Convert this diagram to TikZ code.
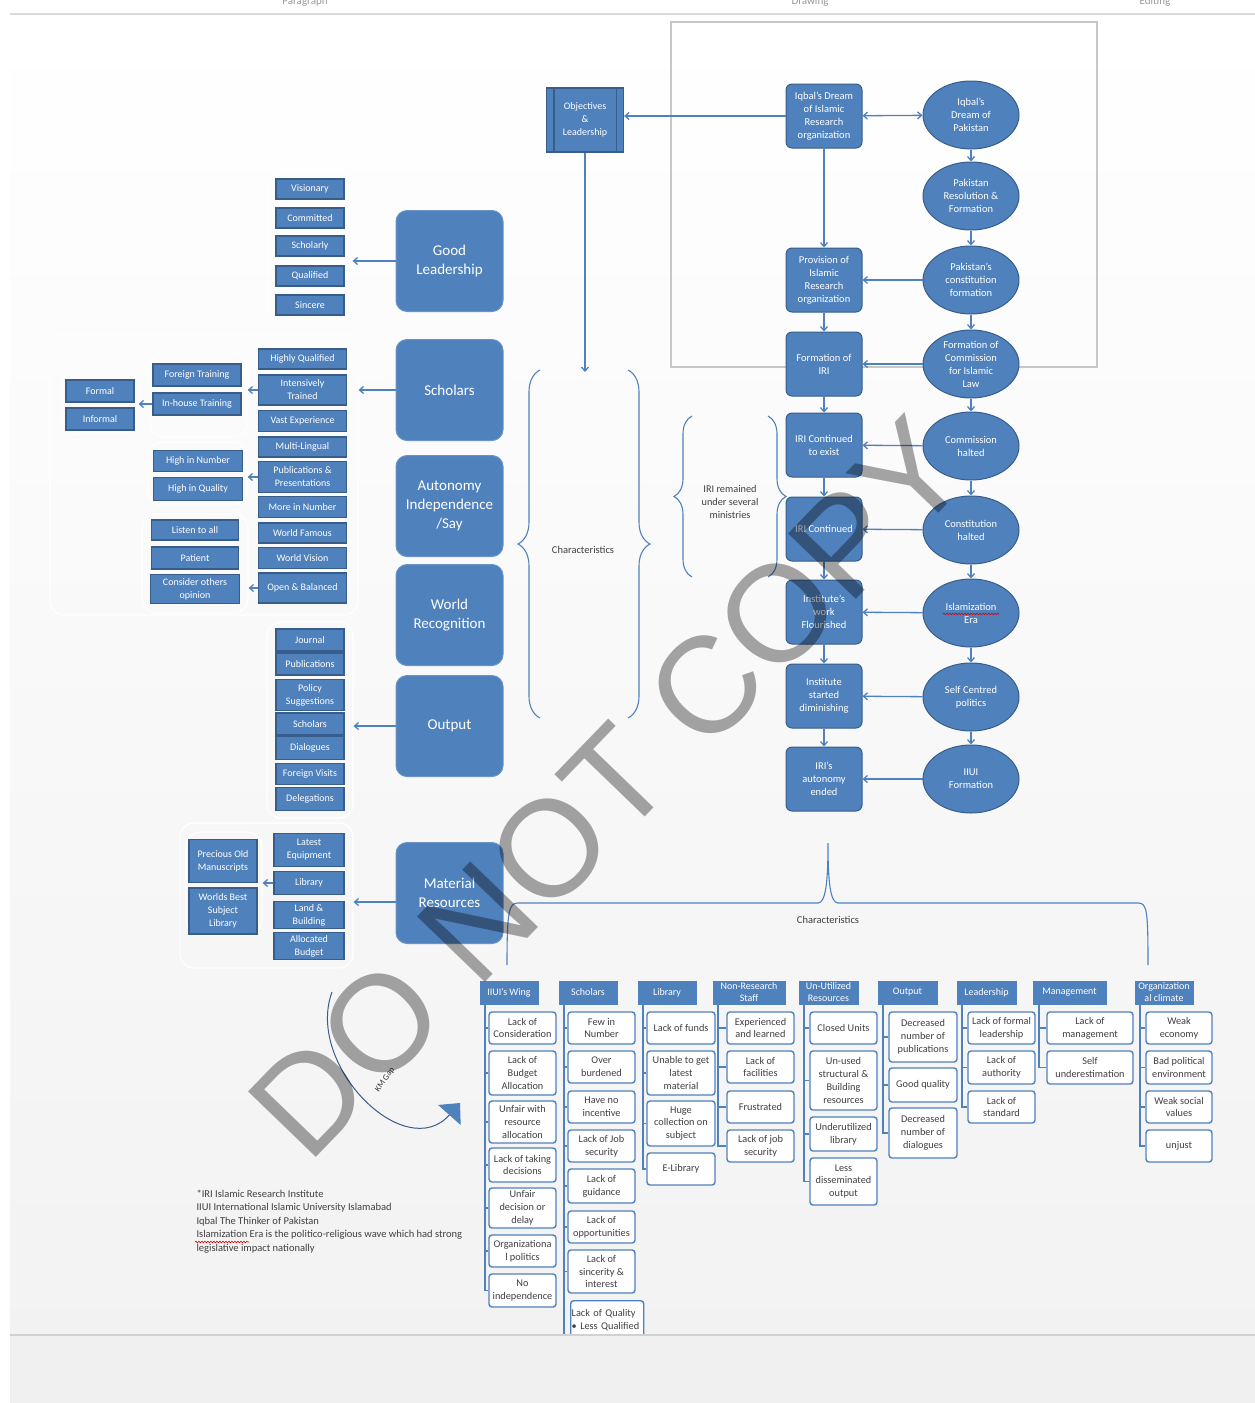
\documentclass[tikz,border=0pt]{standalone}
\usepackage{fontspec}
\setmainfont{Carlito}
\newfontfamily\markfont{Liberation Sans}
\usetikzlibrary{arrows.meta, calc, fit, shapes.geometric, decorations.pathreplacing, decorations.pathmorphing}

\definecolor{offblue}{HTML}{4F81BD}
\definecolor{offdark}{HTML}{385D8A}
\definecolor{offtext}{HTML}{404040}

\tikzset{
  bigbox/.style={rounded corners=11pt, fill=offblue, draw=offblue!85!white, line width=1pt, text=white, align=center,
    minimum width=107pt, minimum height=101pt, font=\fontsize{15}{19}\selectfont},
  sbox/.style={fill=offblue, draw=offdark, line width=1.2pt, text=white, align=center, inner sep=1pt,
    font=\fontsize{10}{13}\selectfont},
  flow/.style={rounded corners=6pt, fill=offblue, draw=offdark, line width=1pt, text=white, align=center,
    minimum width=76pt, minimum height=64pt, inner sep=1pt, font=\fontsize{10.5}{13}\selectfont},
  oval/.style={ellipse, fill=offblue, draw=offdark, line width=1pt, text=white, align=center,
    minimum width=96pt, minimum height=68pt, inner xsep=0pt, inner ysep=-3pt, font=\fontsize{10.5}{13}\selectfont},
  head/.style={fill=offblue, draw=offblue, text=white, align=center, minimum height=23pt, inner sep=0pt,
    font=\fontsize{10}{12}\selectfont},
  item/.style={rounded corners=3pt, fill=white, draw=offblue, line width=1.4pt, text=offtext, align=center,
    inner sep=1pt, font=\fontsize{10.3}{12.8}\selectfont},
  grp/.style={draw=white, line width=1.2pt, rounded corners=14pt, inner sep=0pt},
  link/.style={offblue, line width=1.3pt, -{Straight Barb[length=4pt, width=7pt]}},
  tree/.style={offblue, line width=1.6pt},
  brc/.style={offblue, line width=1.1pt, decorate},
  note/.style={text=offtext, font=\fontsize{10.5}{13.5}\selectfont},
  spell/.style={red!85!black, line width=0.6pt, decorate, decoration={snake, amplitude=0.8pt, segment length=3pt}},
}

\begin{document}
\begin{tikzpicture}[x=1pt, y=-1pt]
  \useasboundingbox (0,0) rectangle (1255,1403);

  % page and ribbon
  \fill[white] (0,0) rectangle (1255,1403);
  \shade[top color=white, bottom color=black!5] (10,16) rectangle (1255,1335);
  \draw[black!14, line width=1.5pt] (10,14) -- (1255,14);
  \foreach \x/\lbl in {305/Paragraph, 810/Drawing, 1155/Editing}
    \node[text=black!40, font=\fontsize{11}{11}\selectfont] (rib\x) at (\x,2) {\lbl};

  % timeline frame
  \draw[black!22, line width=1.2pt] (671,22) rectangle (1097,367);

  % group frames
  \node[grp, fit={(268,172) (352,320)}] (glf) {};
  \node[grp, fit={(50,335) (358,615)}] (schf) {};
  \node[grp, fit={(150,352) (247,437)}] (trf) {};
  \node[grp, fit={(62,370) (138,433)}] (fmf) {};
  \node[grp, fit={(148,442) (247,505)}] (hnf) {};
  \node[grp, fit={(142,514) (248,613)}] (lsf) {};
  \node[grp, fit={(267,622) (353,818)}] (outf) {};
  \node[grp, fit={(180,823) (353,968)}] (matf) {};
  \node[grp, fit={(186,832) (262,935)}] (msf) {};

  % objectives
  \node[sbox, minimum width=77pt, minimum height=64pt] (obj) at (585,120) {Objectives\\\&\\Leadership};
  \draw[offdark, line width=1.2pt] ([xshift=8pt]obj.north west) -- ([xshift=8pt]obj.south west)
    ([xshift=-8pt]obj.north east) -- ([xshift=-8pt]obj.south east);
  \coordinate (chartop) at (585,372);

  % IRI history
  \foreach \nm/\y/\txt in {dr/116/{Iqbal's Dream\\of Islamic\\Research\\organization},
      prov/280/{Provision of\\Islamic\\Research\\organization}, firi/364/{Formation of\\IRI},
      cex/445/{IRI Continued\\to exist}, con/529/{IRI Continued}, flo/612/{Institute's\\work\\Flourished},
      dim/696/{Institute\\started\\diminishing}, iend/779/{IRI's\\autonomy\\ended}}
    \node[flow] (\nm) at (824,\y) {\txt};

  % national events
  \foreach \nm/\y/\txt in {pdr/115/{Iqbal's\\Dream of\\Pakistan}, pres/196/{Pakistan\\Resolution \&\\Formation},
      pcon/280/{Pakistan's\\constitution\\formation}, fcom/364/{Formation of\\Commission\\for Islamic\\Law},
      chal/446/{Commission\\halted}, cohal/530/{Constitution\\halted}, isl/613/{Islamization\\Era},
      self/697/{Self Centred\\politics}, iiui/779/{IIUI\\Formation}}
    \node[oval] (\nm) at (971,\y) {\txt};
  \draw[spell] ([shift={(-28,1)}]isl.center) -- ++(56,0);

  \draw[link, {Straight Barb[length=4pt, width=7pt]}-{Straight Barb[length=4pt, width=7pt]}] (dr) -- (pdr);
  \draw[link] (dr.west) -- (dr.west -| obj.east);
  \draw[link] (obj) -- (chartop);
  \foreach \a/\b in {dr/prov, prov/firi, firi/cex, cex/con, con/flo, flo/dim, dim/iend,
      pdr/pres, pres/pcon, pcon/fcom, fcom/chal, chal/cohal, cohal/isl, isl/self, self/iiui,
      pcon/prov, fcom/firi, chal/cex, cohal/con, isl/flo, self/dim, iiui/iend}
    \draw[link] (\a) -- (\b);

  % braces
  \draw[brc, decoration={brace, amplitude=22pt}] (540,718) -- (540,370);
  \draw[brc, decoration={brace, amplitude=22pt}] (628,370) -- (628,718);
  \node[note] (chl) at (583,550) {Characteristics};
  \draw[brc, decoration={brace, amplitude=18pt}] (692,577) -- (692,416);
  \draw[brc, decoration={brace, amplitude=18pt}] (768,416) -- (768,577);
  \node[note, align=center, font=\fontsize{10.3}{13}\selectfont] (mins) at (730,502) {IRI remained\\under several\\ministries};

  % success factors
  \foreach \nm/\y/\txt in {gl/261/{Good\\Leadership}, sch/390/Scholars, auto/506/{Autonomy\\Independence\\/Say},
      wr/615/{World\\Recognition}, out/726/Output, mat/893/{Material\\Resources}}
    \node[bigbox] (\nm) at (449.5,\y) {\txt};

  % leadership traits
  \foreach \nm/\y/\txt in {vis/189/Visionary, cmt/218/Committed, sly/246/Scholarly, qlf/276/Qualified, sin/305/Sincere}
    \node[sbox, minimum width=68pt, minimum height=20pt] (\nm) at (310,\y) {\txt};

  % scholar traits
  \foreach \nm/\y/\h/\txt in {hq/359/20/Highly Qualified, itr/390/30/{Intensively\\Trained}, vex/421/21/Vast Experience,
      mli/447/20/Multi-Lingual, ppr/477/31/{Publications \&\\Presentations}, mnu/507/21/More in Number,
      wfa/533/20/World Famous, wvi/558/21/World Vision, obl/588/30/Open \& Balanced}
    \node[sbox, minimum width=88pt, minimum height=\h pt] (\nm) at (302.5,\y) {\txt};
  \foreach \nm/\x/\y/\w/\h/\txt in {ftr/197/375/88/22/Foreign Training, iht/197/404/88/22/In-house Training,
      fml/100/391/68/22/Formal, ifm/100/419/68/22/Informal, hin/198/461/89/21/High in Number,
      hiq/198/489/89/23/High in Quality, lta/195/530/87/20/Listen to all, pat/195/558/87/22/Patient,
      coo/195/589/89/29/{Consider others\\opinion}}
    \node[sbox, minimum width=\w pt, minimum height=\h pt] (\nm) at (\x,\y) {\txt};

  % output items
  \foreach \nm/\y/\h/\txt in {jou/640/22/Journal, pub/664/22/Publications, pol/695/31/{Policy\\Suggestions},
      osc/724/22/Scholars, dia/748/23/Dialogues, fvi/774/21/Foreign Visits, del/799/23/Delegations}
    \node[sbox, minimum width=68pt, minimum height=\h pt] (\nm) at (310,\y) {\txt};

  % material items
  \foreach \nm/\y/\h/\txt in {leq/850/33/{Latest\\Equipment}, lib/883/23/Library, lbu/915/27/{Land \&\\Building},
      abu/946/27/{Allocated\\Budget}}
    \node[sbox, minimum width=70pt, minimum height=\h pt] (\nm) at (309,\y) {\txt};
  \node[sbox, minimum width=68pt, minimum height=43pt] (pom) at (223,861) {Precious Old\\Manuscripts};
  \node[sbox, minimum width=68pt, minimum height=46pt] (wbl) at (223,911) {Worlds Best\\Subject\\Library};

  \draw[link] (gl.west) -- (gl.west -| glf.east);
  \draw[link] (sch.west) -- (sch.west -| schf.east);
  \draw[link] (itr.west) -- (itr.west -| trf.east);
  \draw[link] (iht.west) -- (iht.west -| fmf.east);
  \draw[link] (ppr.west) -- (ppr.west -| hnf.east);
  \draw[link] (obl.west) -- (obl.west -| lsf.east);
  \draw[link] (out.west) -- (out.west -| outf.east);
  \draw[link] ([yshift=-9pt]mat.west) -- ([yshift=-9pt]mat.west -| matf.east);
  \draw[link] (lib.west) -- (lib.west -| msf.east);

  % problems brace
  \draw[offblue, line width=1.1pt] (507,965) .. controls (507,910) and (509,903) .. (518,903) -- (818,903)
    .. controls (826,903) and (828,880) .. (828,843) .. controls (828,880) and (830,903) .. (838,903)
    -- (1138,903) .. controls (1147,903) and (1148,910) .. (1148,965);
  \node[note] (chb) at (828,920) {Characteristics};

  % problem headings
  \foreach \nm/\x/\w/\txt in {hw/509/58/IIUI's Wing, hs/588/58/Scholars, hl/667/58/Library,
      hn/749/72/{Non-Research\\Staff}, hu/828.5/59/{Un-Utilized\\Resources}, ho/907.5/59/Output,
      hld/986.5/59/Leadership, hm/1069.5/73/Management, hc/1164/58/{Organization\\al climate}}
    \node[head, minimum width=\w pt] (\nm) at (\x,992.5) {\txt};

  % IIUI's Wing
  \foreach \nm/\y/\h/\txt in {lc/1028/32/{Lack of\\Consideration}, lba/1073/44/{Lack of\\Budget\\Allocation},
      ura/1122/42/{Unfair with\\resource\\allocation}, ltd/1165/34/{Lack of taking\\decisions},
      udd/1208/40/{Unfair\\decision or\\delay}, opo/1251/32/{Organizationa\\l politics}, nin/1290.5/33/{No\\independence}}{
    \node[item, minimum width=67pt, minimum height=\h pt] (\nm) at (522.5,\y) {\txt};
    \draw[tree] ([xshift=5pt]hw.south west) |- (\nm.west);
  }
  % Scholars
  \foreach \nm/\y/\h/\txt in {fin/1028/32/{Few in\\Number}, obu/1067/32/{Over\\burdened}, hni/1107/32/{Have no\\incentive},
      ljs/1146/32/{Lack of Job\\security}, lgu/1186/34/{Lack of\\guidance}, lop/1227/32/{Lack of\\opportunities},
      lsi/1271.5/43/{Lack of\\sincerity \&\\interest}}{
    \node[item, minimum width=67pt, minimum height=\h pt] (\nm) at (601.5,\y) {\txt};
    \draw[tree] ([xshift=5pt]hs.south west) |- (\nm.west);
  }
  \node[item, anchor=north west, text width=71pt, align=left, minimum height=38pt] (lqu) at (570,1300)
    {Lack of Quality\\\textbullet\ Less Qualified};
  \draw[tree] ([xshift=5pt]hs.south west) -- ([xshift=5pt]hs.south west |- lqu.south);
  % Library
  \foreach \nm/\y/\h/\txt in {lfu/1028/32/{Lack of funds}, ugl/1073/44/{Unable to get\\latest\\material},
      hcs/1123.5/45/{Huge\\collection on\\subject}, eli/1169/32/E-Library}{
    \node[item, minimum width=68pt, minimum height=\h pt] (\nm) at (681,\y) {\txt};
    \draw[tree] ([xshift=5pt]hl.south west) |- (\nm.west);
  }
  % Non-Research Staff
  \foreach \nm/\y/\h/\txt in {eal/1028/32/{Experienced\\and learned}, lfa/1067/32/{Lack of\\facilities},
      fru/1107/32/Frustrated, ljb/1146/32/{Lack of job\\security}}{
    \node[item, minimum width=67pt, minimum height=\h pt] (\nm) at (760.5,\y) {\txt};
    \draw[tree] ([xshift=5pt]hn.south west) |- (\nm.west);
  }
  % Un-Utilized Resources
  \foreach \nm/\y/\h/\txt in {clu/1028/32/{Closed Units}, usb/1080.5/59/{Un-used\\structural \&\\Building\\resources},
      ulb/1134/34/{Underutilized\\library}, ldo/1181.5/47/{Less\\disseminated\\output}}{
    \node[item, minimum width=67pt, minimum height=\h pt] (\nm) at (843.5,\y) {\txt};
    \draw[tree] ([xshift=5pt]hu.south west) |- (\nm.west);
  }
  % Output
  \foreach \nm/\y/\h/\txt in {dnp/1037/50/{Decreased\\number of\\publications}, gqu/1085/34/{Good quality},
      dnd/1133/50/{Decreased\\number of\\dialogues}}{
    \node[item, minimum width=68pt, minimum height=\h pt] (\nm) at (923,\y) {\txt};
    \draw[tree] ([xshift=5pt]ho.south west) |- (\nm.west);
  }
  % Leadership
  \foreach \nm/\y/\h/\txt in {lfl/1028/32/{Lack of formal\\leadership}, lau/1067.5/33/{Lack of\\authority},
      lst/1107/32/{Lack of\\standard}}{
    \node[item, minimum width=67pt, minimum height=\h pt] (\nm) at (1001.5,\y) {\txt};
    \draw[tree] ([xshift=5pt]hld.south west) |- (\nm.west);
  }
  % Management
  \foreach \nm/\y/\h/\txt in {lma/1028/32/{Lack of\\management}, sun/1067.5/33/{Self\\underestimation}}{
    \node[item, minimum width=86pt, minimum height=\h pt] (\nm) at (1090,\y) {\txt};
    \draw[tree] ([xshift=6pt]hm.south west) |- (\nm.west);
  }
  % Organizational climate
  \foreach \nm/\y/\h/\txt in {wec/1028/32/{Weak\\economy}, bpe/1067.5/33/{Bad political\\environment},
      wsv/1107/32/{Weak social\\values}, unj/1146/32/unjust}{
    \node[item, minimum width=66pt, minimum height=\h pt] (\nm) at (1179,\y) {\txt};
    \draw[tree] ([xshift=5pt]hc.south west) |- (\nm.west);
  }

  % KM gap
  \coordinate (kmstart) at (332,992);
  \coordinate (kmend) at (460,1103);
  \draw[offdark, line width=1pt, -{Triangle[length=16pt, width=30pt, color=offblue, fill=offblue]}]
    (kmstart) .. controls (305,1065) and (405,1165) .. (kmend);
  \node[rotate=55, text=black!80, font=\fontsize{8.5}{8.5}\selectfont] (kmg) at (385,1080) {KM Gap};

  % footnotes
  \node[note, anchor=north west, align=left] (notes) at (193,1186)
    {*IRI Islamic Research Institute\\IIUI International Islamic University Islamabad\\Iqbal The Thinker of Pakistan\\
     Islamization Era is the politico-religious wave which had strong\\legislative impact nationally};
  \draw[spell] ([shift={(2,56)}]notes.north west) -- ++(54,0);

  % status bar
  \fill[black!6] (10,1336) rectangle (1255,1403);
  \draw[black!18, line width=1.2pt] (10,1335) -- (1255,1335);

  % watermark
  \node[rotate=46, text=black, text opacity=0.35, font=\markfont\fontsize{137}{137}\selectfont] (wmark) at (608,788) {DO NOT COPY};
\end{tikzpicture}
\end{document}
